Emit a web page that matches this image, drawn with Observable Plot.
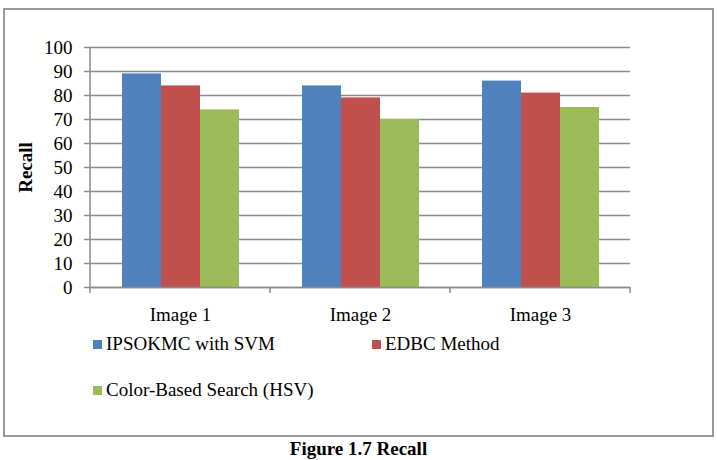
<!DOCTYPE html>
<html>
<head>
<meta charset="utf-8">
<script src="https://cdn.jsdelivr.net/npm/d3@7"></script>
<script src="https://cdn.jsdelivr.net/npm/@observablehq/plot@0.6"></script>
<style>
  html, body { margin: 0; padding: 0; background: #fff; }
  body { width: 717px; height: 460px; position: relative; overflow: hidden;
         font-family: "Liberation Serif", Tinos, "Times New Roman", "Nimbus Roman", "DejaVu Serif", serif; color: #000; }
  #frame { position: absolute; left: 3px; top: 8px; width: 707px; height: 425px;
           border: 2px solid #9a9a9a; }
  #chart { position: absolute; left: 0; top: 0; }
  #legend { position: absolute; left: 93px; top: 332px; width: 560px;
            display: flex; flex-wrap: wrap; font-size: 19px; }
  .item { width: 279px; height: 46px; display: flex; align-items: flex-start; line-height: 24px; }
  .swatch { width: 9px; height: 9px; margin: 8px 4px 0 0; flex: none; }
  #caption { position: absolute; left: 0; top: 437px; width: 717px; text-align: center;
             font-weight: bold; font-size: 19px; line-height: 24px; }
</style>
</head>
<body>
<div id="frame"></div>
<div id="chart"></div>
<div id="legend"></div>
<div id="caption">Figure 1.7 Recall</div>
<script>
// Recall per test image for each retrieval method
const images = ["Image 1", "Image 2", "Image 3"];
const methods = ["IPSOKMC with SVM", "EDBC Method", "Color-Based Search (HSV)"];
const ipsokmcSvm = [89, 84, 86];
const edbcMethod = [84, 79, 81];
const colorHsv = [74, 70, 75];
const yTicks = [0, 10, 20, 30, 40, 50, 60, 70, 80, 90, 100];
const colors = ["#4F81BD", "#C0504D", "#9BBB59"];

const series = [ipsokmcSvm, edbcMethod, colorHsv];
const rows = images.flatMap((image, i) =>
  methods.map((method, j) => ({image, method, value: series[j][i]}))
);

const axisGray = "#8c8c8c";
const serif = "'Liberation Serif', Tinos, 'Times New Roman', 'Nimbus Roman', 'DejaVu Serif', serif";

const chart = Plot.plot({
  width: 717,
  height: 330,
  marginTop: 47,
  marginBottom: 43,
  marginLeft: 89,
  marginRight: 87,
  style: {fontFamily: serif, fontSize: "19px", color: "#000", background: "transparent"},
  fx: {domain: images, padding: 0, label: null},
  x: {domain: methods, paddingInner: 0, paddingOuter: 0.754, axis: null},
  y: {domain: [0, 100], label: "Recall"},
  color: {domain: methods, range: colors},
  marks: [
    Plot.gridY(yTicks, {stroke: axisGray, strokeOpacity: 1, strokeWidth: 1.5}),
    Plot.barY(rows, {fx: "image", x: "method", y: "value", fill: "method"}),
    Plot.ruleY([0], {stroke: axisGray, strokeWidth: 1.5}),
    Plot.axisY(yTicks, {
      tickSize: 6, tickPadding: 12, stroke: axisGray, strokeWidth: 1.5,
      label: "Recall", labelAnchor: "center", labelOffset: 72, labelArrow: "none"
    }),
    Plot.axisFx({anchor: "bottom", tickSize: 0, tickPadding: 20, label: null})
  ]
});

// Category boundary ticks and the vertical value axis line, placed with the chart's own scales
const fx = chart.scale("fx");
const y = chart.scale("y");
const y0 = y.apply(0), y100 = y.apply(100);
const edges = images.map(d => fx.apply(d)).concat(fx.apply(images[images.length - 1]) + fx.bandwidth);
const g = d3.select(chart).append("g").attr("stroke", axisGray).attr("stroke-width", 1.5);
g.selectAll("line.edge").data(edges).join("line")
  .attr("class", "edge")
  .attr("x1", d => d).attr("x2", d => d)
  .attr("y1", y0).attr("y2", y0 + 6);
g.append("line")
  .attr("x1", edges[0]).attr("x2", edges[0])
  .attr("y1", y100).attr("y2", y0);

d3.select(chart).select('[aria-label="y-axis label"]').attr("font-weight", "bold");

document.getElementById("chart").append(chart);

// Legend: two columns, wrapping to a second row
const legend = d3.select("#legend");
const item = legend.selectAll(".item").data(methods).join("div").attr("class", "item");
item.append("span").attr("class", "swatch").style("background", (d, i) => colors[i]);
item.append("span").text(d => d);
</script>
</body>
</html>
